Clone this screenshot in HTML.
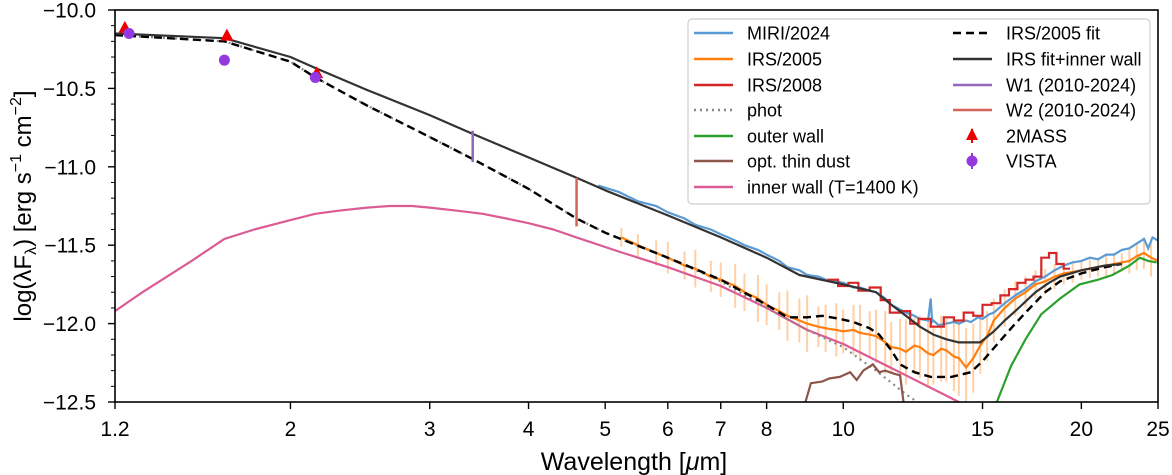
<!DOCTYPE html>
<html><head><meta charset="utf-8">
<style>
html,body{margin:0;padding:0;background:#fff;}
svg{display:block;font-family:"Liberation Sans",sans-serif;}
</style></head>
<body>
<svg id="chart" width="1172" height="475" viewBox="0 0 1172 475" xmlns="http://www.w3.org/2000/svg">
<defs><clipPath id="plotclip"><rect x="115" y="10" width="1043" height="392"/></clipPath></defs>
<g id="series" clip-path="url(#plotclip)"></g>
<g id="axes"></g>
<text x="634" y="470" font-size="25" text-anchor="middle">Wavelength [<tspan font-style="italic">μ</tspan>m]</text>
<text transform="translate(31,206) rotate(-90)" font-size="24" text-anchor="middle">log(λF<tspan font-size="16" dy="5">λ</tspan><tspan dy="-5">) [erg s</tspan><tspan font-size="16" dy="-10">−1</tspan><tspan dy="10"> cm</tspan><tspan font-size="16" dy="-10">−2</tspan><tspan dy="10">]</tspan></text>
<g id="legend"></g>
</svg>
<script>
// ---- data ----
const xTicks = [1.2,2,3,4,5,6,7,8,10,15,20,25];
const yTicks = [-10.0,-10.5,-11.0,-11.5,-12.0,-12.5];
const miriLam = [4.9,5.2,5.5,5.8,6,6.3,6.5,6.8,7,7.3,7.5,7.8,8,8.3,8.5,8.8,9,9.3,9.5,9.8,10,10.3,10.5,10.8,11,11.3,11.5,11.8,12,12.3,12.5,12.8,12.9,12.95,13.0,13.2,13.5,13.8,14,14.3,14.5,14.8,15,15.3,15.5,16,16.5,17,17.5,18,18.5,19,19.5,20,20.5,21,21.5,22,22.5,23,23.5,24,24.3,24.6,25];
const miriVal = [-11.12,-11.16,-11.22,-11.25,-11.29,-11.33,-11.37,-11.40,-11.43,-11.47,-11.50,-11.53,-11.56,-11.60,-11.64,-11.66,-11.69,-11.70,-11.72,-11.73,-11.74,-11.77,-11.77,-11.79,-11.80,-11.84,-11.88,-11.91,-11.93,-11.95,-11.97,-11.98,-11.84,-11.99,-11.98,-12.01,-12.0,-11.99,-12.0,-11.98,-11.99,-11.96,-11.97,-11.94,-11.93,-11.87,-11.82,-11.78,-11.73,-11.70,-11.66,-11.63,-11.61,-11.60,-11.58,-11.59,-11.56,-11.56,-11.53,-11.52,-11.49,-11.46,-11.52,-11.45,-11.47];
const irs05Lam = [5.24,5.5,5.8,6,6.3,6.5,6.8,7,7.3,7.5,7.8,8,8.3,8.5,8.8,9,9.3,9.5,9.8,10,10.3,10.5,10.8,11,11.3,11.5,11.8,12,12.3,12.5,12.8,13,13.3,13.5,13.8,14,14.3,14.6,14.9,15.2,15.5,16,16.5,17,17.5,18,18.5,19,19.5,20,20.5,21,21.5,22,22.5,23,23.5,24,24.5,25];
const irs05Val = [-11.45,-11.50,-11.55,-11.58,-11.63,-11.65,-11.70,-11.72,-11.76,-11.80,-11.84,-11.88,-11.92,-11.95,-11.98,-12.0,-12.02,-12.03,-12.04,-12.05,-12.04,-12.06,-12.07,-12.08,-12.12,-12.15,-12.16,-12.18,-12.14,-12.15,-12.19,-12.20,-12.16,-12.17,-12.21,-12.22,-12.28,-12.22,-12.14,-12.08,-11.98,-11.90,-11.84,-11.80,-11.75,-11.73,-11.70,-11.68,-11.67,-11.66,-11.65,-11.64,-11.63,-11.62,-11.61,-11.60,-11.57,-11.55,-11.58,-11.60];
const irs05Err = [0.06,0.07,0.08,0.10,0.09,0.12,0.10,0.11,0.14,0.12,0.15,0.13,0.12,0.16,0.14,0.18,0.13,0.15,0.17,0.14,0.16,0.18,0.15,0.17,0.20,0.16,0.19,0.21,0.18,0.20,0.22,0.19,0.21,0.20,0.22,0.24,0.25,0.22,0.18,0.16,0.14,0.12,0.11,0.10,0.09,0.08,0.08,0.07,0.07,0.06,0.06,0.06,0.07,0.07,0.06,0.08,0.09,0.10,0.12,0.12];
const irs08Lam = [9.7,10.0,10.3,10.6,11.0,11.3,11.6,12.0,12.3,12.6,13.2,13.6,14.0,14.4,14.8,15.2,15.6,16.0,16.4,16.8,17.2,17.6,18.0,18.4,18.8,19.2];
const irs08Val = [-11.72,-11.76,-11.74,-11.79,-11.77,-11.85,-11.93,-11.92,-12.0,-11.97,-12.02,-11.96,-11.98,-11.93,-11.95,-11.88,-11.87,-11.82,-11.78,-11.74,-11.72,-11.70,-11.58,-11.55,-11.62,-11.65];
const photLam = [1.2,1.65,2,2.15,2.5,3,3.4,4,4.6,5,6,7,8,9,10,11,12,12.5,13];
const photVal = [-10.16,-10.2,-10.33,-10.43,-10.61,-10.81,-10.95,-11.14,-11.33,-11.42,-11.58,-11.73,-11.90,-12.04,-12.15,-12.30,-12.45,-12.51,-12.57];
const fitLam = [1.2,1.65,2,2.15,2.5,3,3.4,4,4.6,5,6,7,8,8.5,9,9.4,9.9,10.3,10.8,11.1,11.5,11.8,12.3,12.9,13.7,14.5,15.0,15.6,16.3,17,18,18.8,20,21.4,22.5];
const fitVal = [-10.16,-10.2,-10.33,-10.43,-10.61,-10.81,-10.95,-11.14,-11.33,-11.42,-11.58,-11.72,-11.88,-11.96,-11.96,-11.95,-11.97,-11.99,-12.03,-12.07,-12.17,-12.26,-12.31,-12.34,-12.34,-12.31,-12.24,-12.14,-12.03,-11.93,-11.80,-11.73,-11.68,-11.64,-11.62];
const totLam = [1.2,1.65,2,2.15,2.5,3,3.4,4,4.6,5,6,7,8,8.8,10,11,11.5,12,12.5,13,13.5,14,14.9,15.5,16.0,16.5,17,17.5,18.2,18.8,20,21.4,22.5];
const totVal = [-10.15,-10.18,-10.30,-10.37,-10.51,-10.67,-10.79,-10.94,-11.07,-11.15,-11.31,-11.45,-11.58,-11.69,-11.75,-11.80,-11.88,-11.95,-12.02,-12.07,-12.10,-12.12,-12.12,-12.05,-11.98,-11.92,-11.86,-11.80,-11.74,-11.70,-11.66,-11.63,-11.62];
const innerLam = [1.2,1.3,1.5,1.65,1.8,2,2.15,2.3,2.5,2.67,2.85,3,3.25,3.5,3.75,4,4.3,4.6,5.2,6,7,8,9,10,12,14,14.5];
const innerVal = [-11.92,-11.80,-11.60,-11.46,-11.40,-11.34,-11.30,-11.28,-11.26,-11.25,-11.25,-11.26,-11.28,-11.30,-11.33,-11.36,-11.40,-11.45,-11.54,-11.64,-11.76,-11.90,-12.04,-12.13,-12.33,-12.50,-12.55];
const outerLam = [15.5,16.3,17,17.8,18.8,19.9,21,21.9,23,23.7,24.3,24.9];
const outerVal = [-12.55,-12.27,-12.10,-11.94,-11.84,-11.75,-11.72,-11.69,-11.63,-11.58,-11.60,-11.61];
const dustLam = [8.9,9.1,9.4,9.6,9.9,10.2,10.4,10.6,10.9,11.1,11.3,11.6,11.8,11.95];
const dustVal = [-12.55,-12.38,-12.37,-12.35,-12.34,-12.31,-12.36,-12.30,-12.26,-12.31,-12.30,-12.32,-12.33,-12.55];
const twomassLam = [1.235,1.662,2.159];
const twomassVal = [-10.12,-10.17,-10.41];
const vistaLam = [1.25,1.65,2.15];
const vistaVal = [-10.15,-10.32,-10.43];
const w1Lam = [3.4]; const w1Lo = [-10.97]; const w1Hi = [-10.77];
const w2Lam = [4.6]; const w2Lo = [-11.38]; const w2Hi = [-11.07];

// ---- scales ----
const X0=115, X1=1158, Y0=10, Y1=402, LMIN=1.2, LMAX=25, VMAX=-10, VMIN=-12.5;
const xs = l => X0 + Math.log(l/LMIN)/Math.log(LMAX/LMIN)*(X1-X0);
const ys = v => Y0 + (VMAX-v)/(VMAX-VMIN)*(Y1-Y0);
const NS='http://www.w3.org/2000/svg';
function mk(tag, attrs, parent){const e=document.createElementNS(NS,tag);for(const k in attrs)e.setAttribute(k,attrs[k]);parent.appendChild(e);return e;}
const S=document.getElementById('series'), A=document.getElementById('axes'), L=document.getElementById('legend');
function pts(lam,val){return lam.map((l,i)=>xs(l).toFixed(1)+','+ys(val[i]).toFixed(1)).join(' ');}
function stepPts(lam,val){let p=[];for(let i=0;i<lam.length;i++){const a=i>0?(lam[i-1]+lam[i])/2:lam[i]-0.15, b=i<lam.length-1?(lam[i]+lam[i+1])/2:lam[i]+0.15;p.push(xs(a).toFixed(1)+','+ys(val[i]).toFixed(1));p.push(xs(b).toFixed(1)+','+ys(val[i]).toFixed(1));}return p.join(' ');}

for(let i=0;i<irs05Lam.length;i++){
  const e=mk('line',{x1:xs(irs05Lam[i]),x2:xs(irs05Lam[i]),y1:ys(irs05Val[i]-irs05Err[i]),y2:ys(irs05Val[i]+irs05Err[i]),stroke:'#ffc48f','stroke-width':2,opacity:0.8},S);
  
  
}
let e;
e=mk('polyline',{points:pts(innerLam,innerVal),fill:'none',stroke:'#dc5b95','stroke-width':2.2,'stroke-linejoin':'round'},S);
 
e=mk('polyline',{points:pts(photLam,photVal),fill:'none',stroke:'#888','stroke-width':2.2,'stroke-dasharray':'2 4'},S);
 
e=mk('polyline',{points:pts(outerLam,outerVal),fill:'none',stroke:'#2ca02c','stroke-width':2.2},S);
 
e=mk('polyline',{points:pts(dustLam,dustVal),fill:'none',stroke:'#8c564b','stroke-width':2.2},S);
 
e=mk('polyline',{points:pts(miriLam,miriVal),fill:'none',stroke:'#5b9bd5','stroke-width':2.2},S);
 
e=mk('polyline',{points:pts(irs05Lam,irs05Val),fill:'none',stroke:'#ff7f0e','stroke-width':2.2},S);
 
e=mk('polyline',{points:stepPts(irs08Lam,irs08Val),fill:'none',stroke:'#d62728','stroke-width':2.2},S);
 
e=mk('polyline',{points:pts(fitLam,fitVal),fill:'none',stroke:'#000','stroke-width':2.4,'stroke-dasharray':'8 5','stroke-linejoin':'round'},S);
 
e=mk('polyline',{points:pts(totLam,totVal),fill:'none',stroke:'#333','stroke-width':2.2,'stroke-linejoin':'round'},S);
 
for(let i=0;i<w1Lam.length;i++){
  e=mk('line',{x1:xs(w1Lam[i]),x2:xs(w1Lam[i]),y1:ys(w1Lo[i]),y2:ys(w1Hi[i]),stroke:'#9467bd','stroke-width':2.5},S);
   
}
for(let i=0;i<w2Lam.length;i++){
  e=mk('line',{x1:xs(w2Lam[i]),x2:xs(w2Lam[i]),y1:ys(w2Lo[i]),y2:ys(w2Hi[i]),stroke:'#d2645a','stroke-width':2.5},S);
   
}
for(let i=0;i<twomassLam.length;i++){
  const x=xs(twomassLam[i]), y=ys(twomassVal[i]);
  e=mk('polygon',{points:`${x},${y-8} ${x-6.5},${y+4} ${x+6.5},${y+4}`,fill:'#ee0000'},S);
   
}
for(let i=0;i<vistaLam.length;i++){
  e=mk('circle',{cx:xs(vistaLam[i]),cy:ys(vistaVal[i]),r:5.5,fill:'#9438e0'},S);
   
}

// axes
e=mk('rect',{x:X0,y:Y0,width:X1-X0,height:Y1-Y0,fill:'none',stroke:'#000','stroke-width':1.6},A);
 
xTicks.forEach(t=>{
  const x=xs(t);
  e=mk('line',{x1:x,x2:x,y1:Y1,y2:Y1+7,stroke:'#000','stroke-width':1.4},A);
   
  e=mk('text',{x:x,y:Y1+34,'font-size':21,'text-anchor':'middle'},A); e.textContent=String(t);
   
});
for(let k=0;k<=25;k++){
  const v=-10-k*0.1, y=ys(v), major=(k%5===0);
  e=mk('line',{x1:X0-(major?7:4),x2:X0,y1:y,y2:y,stroke:'#000','stroke-width':major?1.4:1},A);
   
}
yTicks.forEach(v=>{
  e=mk('text',{x:X0-19,y:ys(v)+7.5,'font-size':21,'text-anchor':'end'},A); e.textContent=(v<0?'−':'')+Math.abs(v).toFixed(1);
   
});

// legend
e=mk('rect',{x:688,y:19,width:462,height:185,rx:4,fill:'#fff',stroke:'#ccc','stroke-width':1.2,opacity:0.95},L);
 
const legItems=[
 [694,33,'MIRI/2024','line','#5b9bd5',''],
 [694,59,'IRS/2005','line','#ff7f0e',''],
 [694,85,'IRS/2008','line','#d62728',''],
 [694,110,'phot','line','#888','2 4'],
 [694,136,'outer wall','line','#2ca02c',''],
 [694,161,'opt. thin dust','line','#8c564b',''],
 [694,187,'inner wall (T=1400 K)','line','#dc5b95',''],
 [953,33,'IRS/2005 fit','line','#000','8 5'],
 [953,59,'IRS fit+inner wall','line','#333',''],
 [953,85,'W1 (2010-2024)','line','#9467bd',''],
 [953,110,'W2 (2010-2024)','line','#d2645a',''],
 [953,136,'2MASS','tri','#ee0000',''],
 [953,161,'VISTA','dot','#9438e0','']
];
legItems.forEach(it=>{
  const [x,y,label,kind,col,dash]=it;
  if(kind==='line'){
    e=mk('line',{x1:x,x2:x+39,y1:y,y2:y,stroke:col,'stroke-width':2.4,'stroke-dasharray':dash||'none'},L);
  } else if(kind==='tri'){
    e=mk('line',{x1:x+19,x2:x+19,y1:y-7,y2:y+7,stroke:col,'stroke-width':2},L);
    e=mk('polygon',{points:`${x+19},${y-8} ${x+13},${y+4} ${x+25},${y+4}`,fill:col},L);
  } else {
    e=mk('line',{x1:x+19,x2:x+19,y1:y-8,y2:y+8,stroke:col,'stroke-width':2},L);
    e=mk('circle',{cx:x+19,cy:y,r:5.5,fill:col},L);
  }
   
  e=mk('text',{x:x+53,y:y+6.5,'font-size':18},L); e.textContent=label;
   
});
</script>
</body></html>
